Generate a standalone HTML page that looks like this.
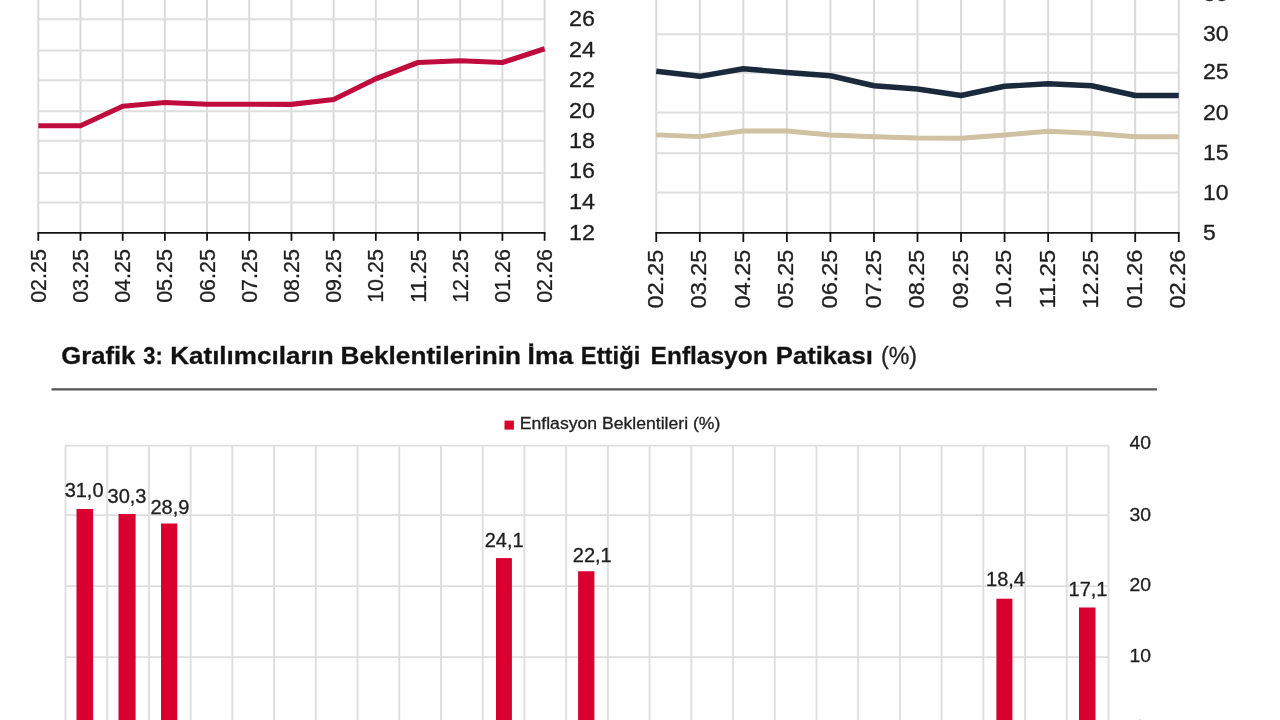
<!DOCTYPE html>
<html lang="tr"><head><meta charset="utf-8"><title>Grafik</title>
<style>
html,body{margin:0;padding:0;background:#fff;}
body{width:1280px;height:720px;overflow:hidden;position:relative;}
svg{position:absolute;left:0;top:0;display:block;}
text{font-family:"Liberation Sans", sans-serif;fill:#1e1e1e;stroke:#1e1e1e;stroke-width:0.3px;}
.g{stroke:#dedede;stroke-width:1.9;fill:none;}
.gv{stroke:#d8d8d8;stroke-width:1.9;fill:none;}
.ax{stroke:#111;stroke-width:1.8;fill:none;}
.t21{font-size:21.3px;}
.t22{font-size:22.6px;}
.bar{fill:#d90030;}
</style></head><body>
<svg width="1280" height="720" viewBox="0 0 1280 720">
<g id="chart1">
<line class="gv" x1="38.3" y1="0" x2="38.3" y2="232.8"/>
<line class="gv" x1="80.49" y1="0" x2="80.49" y2="232.8"/>
<line class="gv" x1="122.68" y1="0" x2="122.68" y2="232.8"/>
<line class="gv" x1="164.88" y1="0" x2="164.88" y2="232.8"/>
<line class="gv" x1="207.07" y1="0" x2="207.07" y2="232.8"/>
<line class="gv" x1="249.26" y1="0" x2="249.26" y2="232.8"/>
<line class="gv" x1="291.45" y1="0" x2="291.45" y2="232.8"/>
<line class="gv" x1="333.64" y1="0" x2="333.64" y2="232.8"/>
<line class="gv" x1="375.83" y1="0" x2="375.83" y2="232.8"/>
<line class="gv" x1="418.03" y1="0" x2="418.03" y2="232.8"/>
<line class="gv" x1="460.22" y1="0" x2="460.22" y2="232.8"/>
<line class="gv" x1="502.41" y1="0" x2="502.41" y2="232.8"/>
<line class="gv" x1="544.6" y1="0" x2="544.6" y2="232.8"/>
<line class="g" x1="38.3" y1="202.5" x2="544.6" y2="202.5"/>
<line class="g" x1="38.3" y1="173" x2="544.6" y2="173"/>
<line class="g" x1="38.3" y1="140.8" x2="544.6" y2="140.8"/>
<line class="g" x1="38.3" y1="111.3" x2="544.6" y2="111.3"/>
<line class="g" x1="38.3" y1="80.3" x2="544.6" y2="80.3"/>
<line class="g" x1="38.3" y1="50.5" x2="544.6" y2="50.5"/>
<line class="g" x1="38.3" y1="19.2" x2="544.6" y2="19.2"/>
<line class="ax" x1="37.4" y1="232.8" x2="545.5" y2="232.8"/>
<line class="ax" x1="38.3" y1="232.8" x2="38.3" y2="240.8"/>
<line class="ax" x1="80.49" y1="232.8" x2="80.49" y2="240.8"/>
<line class="ax" x1="122.68" y1="232.8" x2="122.68" y2="240.8"/>
<line class="ax" x1="164.88" y1="232.8" x2="164.88" y2="240.8"/>
<line class="ax" x1="207.07" y1="232.8" x2="207.07" y2="240.8"/>
<line class="ax" x1="249.26" y1="232.8" x2="249.26" y2="240.8"/>
<line class="ax" x1="291.45" y1="232.8" x2="291.45" y2="240.8"/>
<line class="ax" x1="333.64" y1="232.8" x2="333.64" y2="240.8"/>
<line class="ax" x1="375.83" y1="232.8" x2="375.83" y2="240.8"/>
<line class="ax" x1="418.03" y1="232.8" x2="418.03" y2="240.8"/>
<line class="ax" x1="460.22" y1="232.8" x2="460.22" y2="240.8"/>
<line class="ax" x1="502.41" y1="232.8" x2="502.41" y2="240.8"/>
<line class="ax" x1="544.6" y1="232.8" x2="544.6" y2="240.8"/>
<polyline points="38.3,125.75 80.49,125.75 122.68,106.25 164.88,102.5 207.07,104.25 249.26,104.25 291.45,104.4 333.64,99.5 375.83,78.75 418.03,62.5 460.22,60.75 502.41,62.5 544.6,48.75" fill="none" stroke="#bf0c3d" stroke-width="5.2" stroke-linejoin="round" stroke-linecap="butt"/>
<text class="t22" textLength="53.6" lengthAdjust="spacingAndGlyphs" transform="translate(45.9,302.8) rotate(-90)">02.25</text>
<text class="t22" textLength="53.6" lengthAdjust="spacingAndGlyphs" transform="translate(88.09,302.8) rotate(-90)">03.25</text>
<text class="t22" textLength="53.6" lengthAdjust="spacingAndGlyphs" transform="translate(130.28,302.8) rotate(-90)">04.25</text>
<text class="t22" textLength="53.6" lengthAdjust="spacingAndGlyphs" transform="translate(172.47,302.8) rotate(-90)">05.25</text>
<text class="t22" textLength="53.6" lengthAdjust="spacingAndGlyphs" transform="translate(214.67,302.8) rotate(-90)">06.25</text>
<text class="t22" textLength="53.6" lengthAdjust="spacingAndGlyphs" transform="translate(256.86,302.8) rotate(-90)">07.25</text>
<text class="t22" textLength="53.6" lengthAdjust="spacingAndGlyphs" transform="translate(299.05,302.8) rotate(-90)">08.25</text>
<text class="t22" textLength="53.6" lengthAdjust="spacingAndGlyphs" transform="translate(341.24,302.8) rotate(-90)">09.25</text>
<text class="t22" textLength="53.6" lengthAdjust="spacingAndGlyphs" transform="translate(383.43,302.8) rotate(-90)">10.25</text>
<text class="t22" textLength="53.6" lengthAdjust="spacingAndGlyphs" transform="translate(425.63,302.8) rotate(-90)">11.25</text>
<text class="t22" textLength="53.6" lengthAdjust="spacingAndGlyphs" transform="translate(467.82,302.8) rotate(-90)">12.25</text>
<text class="t22" textLength="53.6" lengthAdjust="spacingAndGlyphs" transform="translate(510.01,302.8) rotate(-90)">01.26</text>
<text class="t22" textLength="53.6" lengthAdjust="spacingAndGlyphs" transform="translate(552.2,302.8) rotate(-90)">02.26</text>
<text class="t21" x="569" y="240.3" textLength="26" lengthAdjust="spacingAndGlyphs">12</text>
<text class="t21" x="569" y="208.8" textLength="26" lengthAdjust="spacingAndGlyphs">14</text>
<text class="t21" x="569" y="177.8" textLength="26" lengthAdjust="spacingAndGlyphs">16</text>
<text class="t21" x="569" y="148.3" textLength="26" lengthAdjust="spacingAndGlyphs">18</text>
<text class="t21" x="569" y="117.5" textLength="26" lengthAdjust="spacingAndGlyphs">20</text>
<text class="t21" x="569" y="86.7" textLength="26" lengthAdjust="spacingAndGlyphs">22</text>
<text class="t21" x="569" y="57.2" textLength="26" lengthAdjust="spacingAndGlyphs">24</text>
<text class="t21" x="569" y="26.3" textLength="26" lengthAdjust="spacingAndGlyphs">26</text>
</g>
<g id="chart2">
<line class="gv" x1="656.25" y1="0" x2="656.25" y2="232.8"/>
<line class="gv" x1="699.79" y1="0" x2="699.79" y2="232.8"/>
<line class="gv" x1="743.33" y1="0" x2="743.33" y2="232.8"/>
<line class="gv" x1="786.88" y1="0" x2="786.88" y2="232.8"/>
<line class="gv" x1="830.42" y1="0" x2="830.42" y2="232.8"/>
<line class="gv" x1="873.96" y1="0" x2="873.96" y2="232.8"/>
<line class="gv" x1="917.5" y1="0" x2="917.5" y2="232.8"/>
<line class="gv" x1="961.04" y1="0" x2="961.04" y2="232.8"/>
<line class="gv" x1="1004.58" y1="0" x2="1004.58" y2="232.8"/>
<line class="gv" x1="1048.12" y1="0" x2="1048.12" y2="232.8"/>
<line class="gv" x1="1091.67" y1="0" x2="1091.67" y2="232.8"/>
<line class="gv" x1="1135.21" y1="0" x2="1135.21" y2="232.8"/>
<line class="gv" x1="1178.75" y1="0" x2="1178.75" y2="232.8"/>
<line class="g" x1="656.25" y1="192.5" x2="1178.75" y2="192.5"/>
<line class="g" x1="656.25" y1="153.3" x2="1178.75" y2="153.3"/>
<line class="g" x1="656.25" y1="112.5" x2="1178.75" y2="112.5"/>
<line class="g" x1="656.25" y1="72.8" x2="1178.75" y2="72.8"/>
<line class="g" x1="656.25" y1="34.2" x2="1178.75" y2="34.2"/>
<line class="ax" x1="655.35" y1="232.8" x2="1179.65" y2="232.8"/>
<line class="ax" x1="656.25" y1="232.8" x2="656.25" y2="242"/>
<line class="ax" x1="699.79" y1="232.8" x2="699.79" y2="242"/>
<line class="ax" x1="743.33" y1="232.8" x2="743.33" y2="242"/>
<line class="ax" x1="786.88" y1="232.8" x2="786.88" y2="242"/>
<line class="ax" x1="830.42" y1="232.8" x2="830.42" y2="242"/>
<line class="ax" x1="873.96" y1="232.8" x2="873.96" y2="242"/>
<line class="ax" x1="917.5" y1="232.8" x2="917.5" y2="242"/>
<line class="ax" x1="961.04" y1="232.8" x2="961.04" y2="242"/>
<line class="ax" x1="1004.58" y1="232.8" x2="1004.58" y2="242"/>
<line class="ax" x1="1048.12" y1="232.8" x2="1048.12" y2="242"/>
<line class="ax" x1="1091.67" y1="232.8" x2="1091.67" y2="242"/>
<line class="ax" x1="1135.21" y1="232.8" x2="1135.21" y2="242"/>
<line class="ax" x1="1178.75" y1="232.8" x2="1178.75" y2="242"/>
<polyline points="656.25,134.8 699.79,136.6 743.33,131 786.88,131 830.42,135 873.96,136.75 917.5,138 961.04,138.25 1004.58,135 1048.12,131.25 1091.67,133.25 1135.21,136.75 1178.75,136.75" fill="none" stroke="#cfc1a2" stroke-width="4.8" stroke-linejoin="round"/>
<polyline points="656.25,71.2 699.79,76.3 743.33,68.75 786.88,72.5 830.42,75.75 873.96,85.75 917.5,89 961.04,95.5 1004.58,86.25 1048.12,83.75 1091.67,85.75 1135.21,95.5 1178.75,95.5" fill="none" stroke="#1a2a3c" stroke-width="5.4" stroke-linejoin="round"/>
<text class="t22" textLength="58.7" lengthAdjust="spacingAndGlyphs" transform="translate(662.85,308.4) rotate(-90)">02.25</text>
<text class="t22" textLength="58.7" lengthAdjust="spacingAndGlyphs" transform="translate(706.39,308.4) rotate(-90)">03.25</text>
<text class="t22" textLength="58.7" lengthAdjust="spacingAndGlyphs" transform="translate(749.93,308.4) rotate(-90)">04.25</text>
<text class="t22" textLength="58.7" lengthAdjust="spacingAndGlyphs" transform="translate(793.48,308.4) rotate(-90)">05.25</text>
<text class="t22" textLength="58.7" lengthAdjust="spacingAndGlyphs" transform="translate(837.02,308.4) rotate(-90)">06.25</text>
<text class="t22" textLength="58.7" lengthAdjust="spacingAndGlyphs" transform="translate(880.56,308.4) rotate(-90)">07.25</text>
<text class="t22" textLength="58.7" lengthAdjust="spacingAndGlyphs" transform="translate(924.1,308.4) rotate(-90)">08.25</text>
<text class="t22" textLength="58.7" lengthAdjust="spacingAndGlyphs" transform="translate(967.64,308.4) rotate(-90)">09.25</text>
<text class="t22" textLength="58.7" lengthAdjust="spacingAndGlyphs" transform="translate(1011.18,308.4) rotate(-90)">10.25</text>
<text class="t22" textLength="58.7" lengthAdjust="spacingAndGlyphs" transform="translate(1054.72,308.4) rotate(-90)">11.25</text>
<text class="t22" textLength="58.7" lengthAdjust="spacingAndGlyphs" transform="translate(1098.27,308.4) rotate(-90)">12.25</text>
<text class="t22" textLength="58.7" lengthAdjust="spacingAndGlyphs" transform="translate(1141.81,308.4) rotate(-90)">01.26</text>
<text class="t22" textLength="58.7" lengthAdjust="spacingAndGlyphs" transform="translate(1185.35,308.4) rotate(-90)">02.26</text>
<text class="t21" x="1203" y="239.8" textLength="12.8" lengthAdjust="spacingAndGlyphs">5</text>
<text class="t21" x="1203" y="199.8" textLength="25.6" lengthAdjust="spacingAndGlyphs">10</text>
<text class="t21" x="1203" y="159.7" textLength="25.6" lengthAdjust="spacingAndGlyphs">15</text>
<text class="t21" x="1203" y="119.7" textLength="25.6" lengthAdjust="spacingAndGlyphs">20</text>
<text class="t21" x="1203" y="78.7" textLength="25.6" lengthAdjust="spacingAndGlyphs">25</text>
<text class="t21" x="1203" y="40.5" textLength="25.6" lengthAdjust="spacingAndGlyphs">30</text>
<text class="t21" x="1203" y="1.3" textLength="25.6" lengthAdjust="spacingAndGlyphs">35</text>
</g>
<g id="title">
<text y="363.6" style="font-size:24px;font-weight:bold;fill:#111"><tspan x="61.3" textLength="74" lengthAdjust="spacingAndGlyphs">Grafik</tspan> <tspan x="143.3" textLength="19.5" lengthAdjust="spacingAndGlyphs">3:</tspan> <tspan x="170.2" textLength="163.5" lengthAdjust="spacingAndGlyphs">Katılımcıların</tspan> <tspan x="340.5" textLength="180.5" lengthAdjust="spacingAndGlyphs">Beklentilerinin</tspan> <tspan x="527.6" textLength="45.5" lengthAdjust="spacingAndGlyphs">İma</tspan> <tspan x="580.8" textLength="59.5" lengthAdjust="spacingAndGlyphs">Ettiği</tspan> <tspan x="650.6" textLength="117" lengthAdjust="spacingAndGlyphs">Enflasyon</tspan> <tspan x="775.8" textLength="97" lengthAdjust="spacingAndGlyphs">Patikası</tspan></text>
<text x="881" y="363.6" style="font-size:23px;fill:#222" textLength="36" lengthAdjust="spacingAndGlyphs">(%)</text>
<line x1="51.5" y1="389.3" x2="1157" y2="389.3" stroke="#555" stroke-width="2.2"/>
</g>
<g id="chart3">
<rect x="504.5" y="420.6" width="9.4" height="9" fill="#d90030"/>
<text x="519.8" y="429" style="font-size:16px;fill:#222" textLength="200.5" lengthAdjust="spacingAndGlyphs">Enflasyon Beklentileri (%)</text>
<line class="g" x1="65.5" y1="445.5" x2="65.5" y2="720"/>
<line class="g" x1="107.22" y1="445.5" x2="107.22" y2="720"/>
<line class="g" x1="148.94" y1="445.5" x2="148.94" y2="720"/>
<line class="g" x1="190.66" y1="445.5" x2="190.66" y2="720"/>
<line class="g" x1="232.38" y1="445.5" x2="232.38" y2="720"/>
<line class="g" x1="274.1" y1="445.5" x2="274.1" y2="720"/>
<line class="g" x1="315.82" y1="445.5" x2="315.82" y2="720"/>
<line class="g" x1="357.54" y1="445.5" x2="357.54" y2="720"/>
<line class="g" x1="399.26" y1="445.5" x2="399.26" y2="720"/>
<line class="g" x1="440.98" y1="445.5" x2="440.98" y2="720"/>
<line class="g" x1="482.7" y1="445.5" x2="482.7" y2="720"/>
<line class="g" x1="524.42" y1="445.5" x2="524.42" y2="720"/>
<line class="g" x1="566.14" y1="445.5" x2="566.14" y2="720"/>
<line class="g" x1="607.86" y1="445.5" x2="607.86" y2="720"/>
<line class="g" x1="649.58" y1="445.5" x2="649.58" y2="720"/>
<line class="g" x1="691.3" y1="445.5" x2="691.3" y2="720"/>
<line class="g" x1="733.02" y1="445.5" x2="733.02" y2="720"/>
<line class="g" x1="774.74" y1="445.5" x2="774.74" y2="720"/>
<line class="g" x1="816.46" y1="445.5" x2="816.46" y2="720"/>
<line class="g" x1="858.18" y1="445.5" x2="858.18" y2="720"/>
<line class="g" x1="899.9" y1="445.5" x2="899.9" y2="720"/>
<line class="g" x1="941.62" y1="445.5" x2="941.62" y2="720"/>
<line class="g" x1="983.34" y1="445.5" x2="983.34" y2="720"/>
<line class="g" x1="1025.06" y1="445.5" x2="1025.06" y2="720"/>
<line class="g" x1="1066.78" y1="445.5" x2="1066.78" y2="720"/>
<line class="g" x1="1108.5" y1="445.5" x2="1108.5" y2="720"/>
<line class="g" x1="65.5" y1="657.1" x2="1108.5" y2="657.1"/>
<line class="g" x1="65.5" y1="586.1" x2="1108.5" y2="586.1"/>
<line class="g" x1="65.5" y1="515.1" x2="1108.5" y2="515.1"/>
<line class="g" x1="65.5" y1="445.6" x2="1108.5" y2="445.6"/>
<rect class="bar" x="76.5" y="509" width="16.6" height="213"/>
<text x="84.1" y="497.25" text-anchor="middle" style="font-size:20px">31,0</text>
<rect class="bar" x="118.5" y="514" width="17.1" height="208"/>
<text x="127" y="502.75" text-anchor="middle" style="font-size:20px">30,3</text>
<rect class="bar" x="161" y="523.5" width="16.25" height="198.5"/>
<text x="169.9" y="513.75" text-anchor="middle" style="font-size:20px">28,9</text>
<rect class="bar" x="496" y="558.1" width="15.9" height="163.9"/>
<text x="504.2" y="546.9" text-anchor="middle" style="font-size:20px">24,1</text>
<rect class="bar" x="578.1" y="571.25" width="16.3" height="150.75"/>
<text x="592.25" y="561.5" text-anchor="middle" style="font-size:20px">22,1</text>
<rect class="bar" x="996.4" y="598.7" width="16" height="123.3"/>
<text x="1005.5" y="585.5" text-anchor="middle" style="font-size:20px">18,4</text>
<rect class="bar" x="1079" y="607.5" width="16.5" height="114.5"/>
<text x="1088" y="596" text-anchor="middle" style="font-size:20px">17,1</text>
<text x="1135" y="733.2" style="font-size:18.5px" textLength="10.5" lengthAdjust="spacingAndGlyphs">0</text>
<text x="1129.5" y="662.2" style="font-size:18.5px" textLength="21.5" lengthAdjust="spacingAndGlyphs">10</text>
<text x="1129.5" y="590.5" style="font-size:18.5px" textLength="21.5" lengthAdjust="spacingAndGlyphs">20</text>
<text x="1129.5" y="520.7" style="font-size:18.5px" textLength="21.5" lengthAdjust="spacingAndGlyphs">30</text>
<text x="1129.5" y="449.3" style="font-size:18.5px" textLength="21.5" lengthAdjust="spacingAndGlyphs">40</text>
</g>
</svg>
</body></html>
